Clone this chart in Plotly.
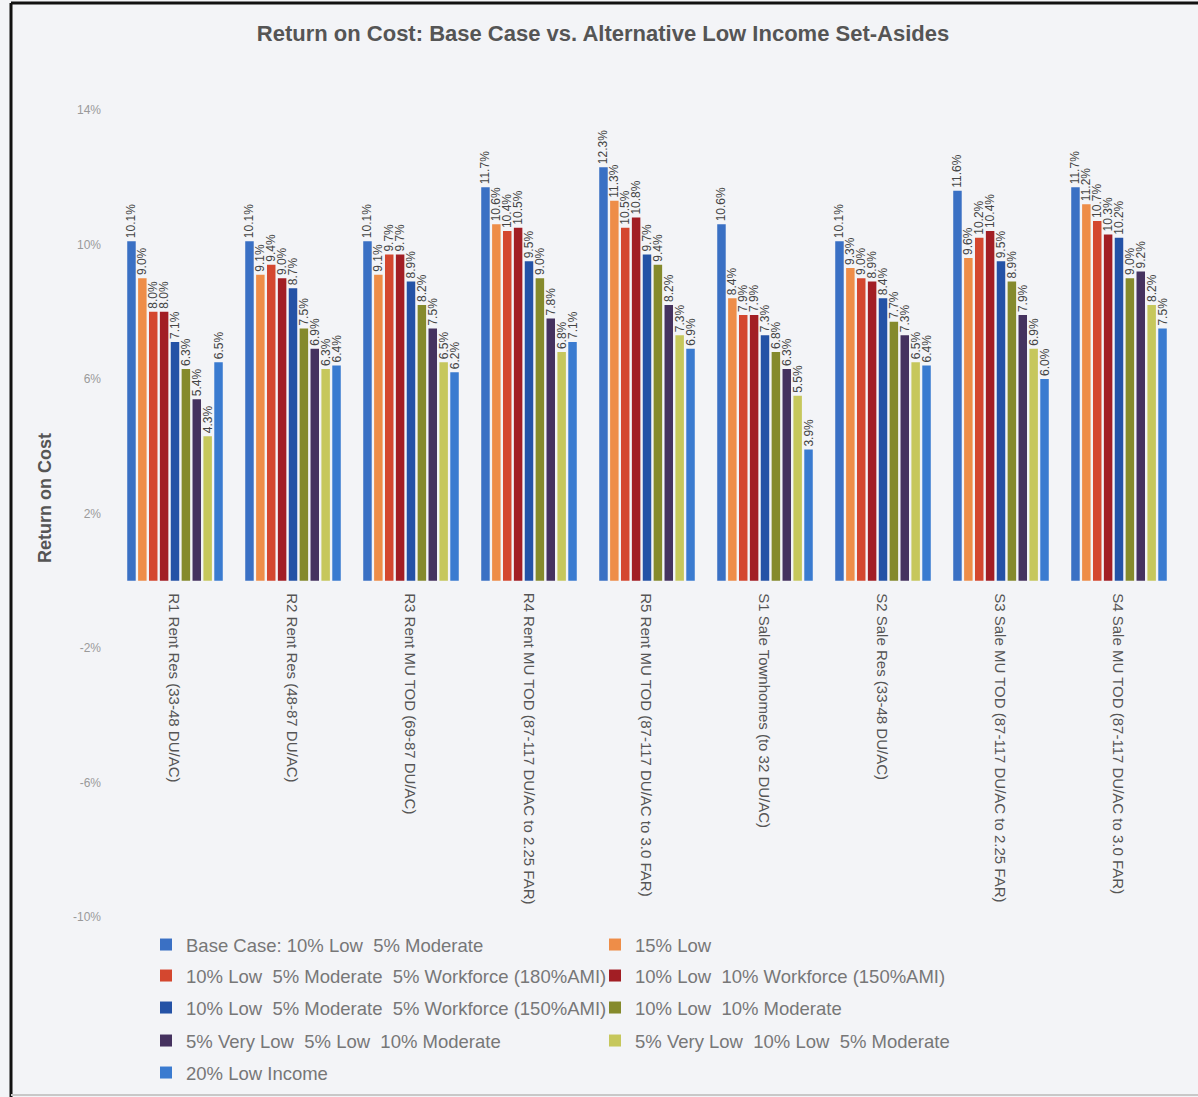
import plotly.graph_objects as go

categories = [
    "R1 Rent Res (33-48 DU/AC)",
    "R2 Rent Res (48-87 DU/AC)",
    "R3 Rent MU TOD (69-87 DU/AC)",
    "R4 Rent MU TOD (87-117 DU/AC to 2.25 FAR)",
    "R5 Rent MU TOD (87-117 DU/AC to 3.0 FAR)",
    "S1 Sale Townhomes (to 32 DU/AC)",
    "S2 Sale Res (33-48 DU/AC)",
    "S3 Sale MU TOD (87-117 DU/AC to 2.25 FAR)",
    "S4 Sale MU TOD (87-117 DU/AC to 3.0 FAR)",
]

series_names = [
    "Base Case: 10% Low  5% Moderate",
    "15% Low",
    "10% Low  5% Moderate  5% Workforce (180%AMI)",
    "10% Low  10% Workforce (150%AMI)",
    "10% Low  5% Moderate  5% Workforce (150%AMI)",
    "10% Low  10% Moderate",
    "5% Very Low  5% Low  10% Moderate",
    "5% Very Low  10% Low  5% Moderate",
    "20% Low Income",
]

base_case = [10.1, 10.1, 10.1, 11.7, 12.3, 10.6, 10.1, 11.6, 11.7]
low_15 = [9.0, 9.1, 9.1, 10.6, 11.3, 8.4, 9.3, 9.6, 11.2]
wf180 = [8.0, 9.4, 9.7, 10.4, 10.5, 7.9, 9.0, 10.2, 10.7]
wf150_10 = [8.0, 9.0, 9.7, 10.5, 10.8, 7.9, 8.9, 10.4, 10.3]
wf150_5 = [7.1, 8.7, 8.9, 9.5, 9.7, 7.3, 8.4, 9.5, 10.2]
low10_mod10 = [6.3, 7.5, 8.2, 9.0, 9.4, 6.8, 7.7, 8.9, 9.0]
vlow5_low5_mod10 = [5.4, 6.9, 7.5, 7.8, 8.2, 6.3, 7.3, 7.9, 9.2]
vlow5_low10_mod5 = [4.3, 6.3, 6.5, 6.8, 7.3, 5.5, 6.5, 6.9, 8.2]
low_income_20 = [6.5, 6.4, 6.2, 7.1, 6.9, 3.9, 6.4, 6.0, 7.5]

series_values = [base_case, low_15, wf180, wf150_10, wf150_5,
                 low10_mod10, vlow5_low5_mod10, vlow5_low10_mod5, low_income_20]

colors = ["#3a70c4", "#ee8d48", "#d4472f", "#a21e24", "#2452a6",
          "#858a2c", "#45325f", "#c6c75c", "#3a7bd0"]

y_tickvals = [-10, -6, -2, 2, 6, 10, 14]
y_ticktext = ["-10%", "-6%", "-2%", "2%", "6%", "10%", "14%"]

W, H = 1198, 1097
ML, MR, MT, MB = 116, 20, 110, 180
plot_w = W - ML - MR
plot_h = H - MT - MB

fig = go.Figure()
for i, (name, vals) in enumerate(zip(series_names, series_values)):
    fig.add_trace(go.Bar(
        x=categories, y=vals, name=name,
        marker=dict(color=colors[i], line=dict(width=0)),
        texttemplate="%{y:.1f}%", textposition="outside", textangle=-90,
        textfont=dict(size=12, color="#444444", family="Liberation Sans, Arial"),
        constraintext="none", cliponaxis=False,
        legend="legend" if i // 2 == 0 else f"legend{i // 2 + 1}",
    ))

# category labels placed just below the zero line
for c in categories:
    fig.add_annotation(x=c, y=0, xref="x", yref="y", text=c, textangle=90,
                       showarrow=False, yanchor="top", xanchor="center", yshift=-10,
                       font=dict(size=15, color="#555555", family="Liberation Sans, Arial"))


def px_to_paper_x(px):
    return (px - ML) / plot_w


def px_to_paper_y(py):
    return (H - MB - py) / plot_h


# y-axis title
fig.add_annotation(x=px_to_paper_x(45), y=px_to_paper_y(498), xref="paper", yref="paper",
                   text="<b>Return on Cost</b>", textangle=-90, showarrow=False,
                   xanchor="center", yanchor="middle",
                   font=dict(size=18, color="#555555", family="Liberation Sans, Arial"))

row_y = [945, 976, 1008, 1041, 1073]
legend_common = dict(orientation="h", xref="container", yref="container",
                     x=146 / W, xanchor="left", yanchor="middle",
                     bgcolor="rgba(0,0,0,0)",
                     font=dict(size=18.5, color="#777777", family="Liberation Sans, Arial"),
                     entrywidth=404, entrywidthmode="pixels",
                     itemwidth=30, tracegroupgap=0)
legends = {}
for r, yy in enumerate(row_y):
    key = "legend" if r == 0 else f"legend{r + 1}"
    legends[key] = dict(legend_common, y=1 - yy / H)

frame = dict(color="#111111", width=3)
shapes = [
    dict(type="line", xref="paper", yref="paper",
         x0=px_to_paper_x(11), x1=px_to_paper_x(11),
         y0=px_to_paper_y(3), y1=px_to_paper_y(1097), line=frame),
    dict(type="line", xref="paper", yref="paper",
         x0=px_to_paper_x(11), x1=px_to_paper_x(1198),
         y0=px_to_paper_y(3), y1=px_to_paper_y(3), line=frame),
    dict(type="line", xref="paper", yref="paper",
         x0=px_to_paper_x(11), x1=px_to_paper_x(1198),
         y0=px_to_paper_y(1095), y1=px_to_paper_y(1095), line=dict(color="#c8c8c8", width=2)),
]

fig.update_layout(
    width=W, height=H,
    margin=dict(l=ML, r=MR, t=MT, b=MB, autoexpand=False),
    paper_bgcolor="#f3f4f7", plot_bgcolor="#f3f4f7",
    title=dict(text="<b>Return on Cost: Base Case vs. Alternative Low Income Set-Asides</b>",
               x=603 / W, xanchor="center", y=1 - 33 / H, yanchor="middle",
               xref="container", yref="container",
               font=dict(size=22, color="#555555", family="Liberation Sans, Arial")),
    barmode="group", bargap=0.17, bargroupgap=0.22,
    showlegend=True,
    shapes=shapes,
    **legends,
)
fig.update_xaxes(showticklabels=False, showgrid=False, zeroline=False, showline=False,
                 ticks="")
fig.update_yaxes(range=[-10, 14], tickvals=y_tickvals, ticktext=y_ticktext,
                 showgrid=False, zeroline=False, showline=False, ticks="",
                 ticklabelstandoff=14,
                 tickfont=dict(size=12, color="#9a9a9a", family="Liberation Sans, Arial"))

fig.write_html("out.html")
